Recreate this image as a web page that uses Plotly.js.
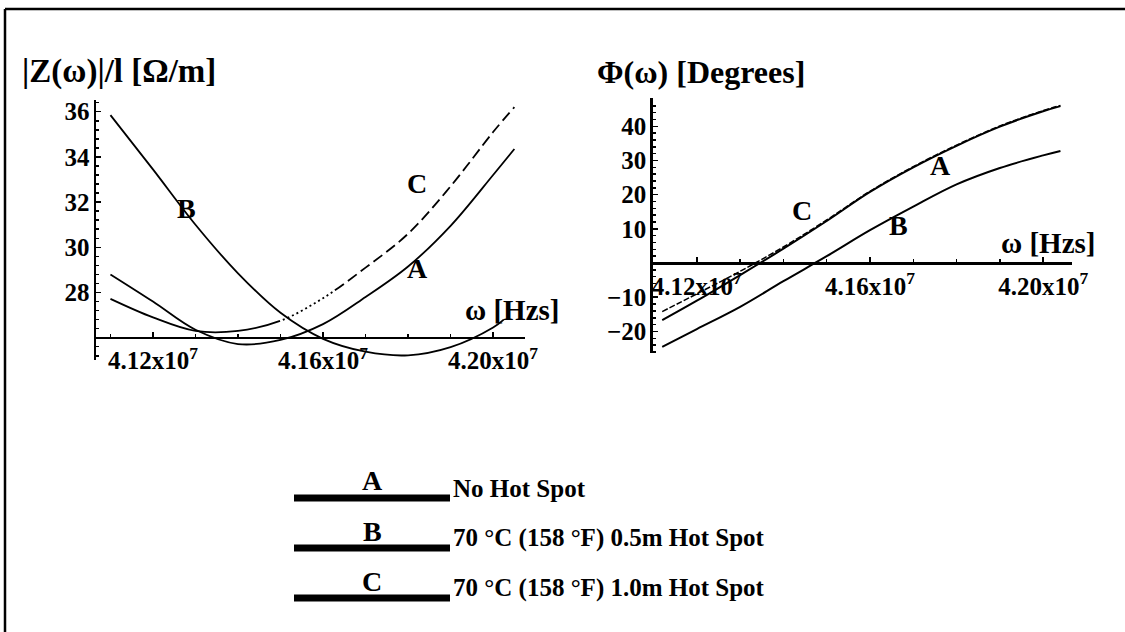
<!DOCTYPE html>
<html>
<head>
<meta charset="utf-8">
<script src="https://cdn.plot.ly/plotly-3.0.1.min.js"></script>
<style>html,body{margin:0;padding:0;background:#fff;overflow:hidden;}#chart{width:1125px;height:632px;}</style>
</head>
<body>
<div id="chart"></div>
<script>
// ---------- data ----------
const freqZ  = [4.110e7, 4.120e7, 4.130e7, 4.140e7, 4.150e7, 4.160e7, 4.170e7, 4.180e7, 4.190e7, 4.200e7, 4.205e7];
const zA     = [28.8, 27.6, 26.35, 25.72, 25.9, 26.6, 27.8, 29.15, 30.95, 33.2, 34.35];
const zC     = [27.72, 26.9, 26.3, 26.3, 26.75, 27.75, 29.1, 30.6, 32.7, 35.1, 36.2];
const freqZB = [4.110e7, 4.120e7, 4.130e7, 4.140e7, 4.150e7, 4.160e7, 4.170e7, 4.180e7, 4.190e7, 4.200e7, 4.2025e7];
const zB     = [35.85, 33.45, 31.0, 28.85, 27.1, 25.95, 25.38, 25.22, 25.58, 26.45, 26.8];

const freqPhi = [4.112e7, 4.120e7, 4.130e7, 4.140e7, 4.150e7, 4.160e7, 4.170e7, 4.180e7, 4.190e7, 4.200e7, 4.204e7];
const phiA    = [-16.7, -11.0, -3.5, 4.2, 12.3, 20.8, 28.0, 34.3, 39.9, 44.4, 45.9];
const phiB    = [-24.5, -19.3, -12.8, -5.3, 2.0, 9.6, 16.5, 23.0, 27.8, 31.5, 32.8];
const phiC    = [-14.2, -9.0, -2.4, 4.7, 12.6, 21.0, 28.2, 34.5, 40.1, 44.6, 46.1];

const xTickVals = [4.12e7, 4.16e7, 4.20e7];
const xTickText = ['4.12x10<sup>7</sup>', '4.16x10<sup>7</sup>', '4.20x10<sup>7</sup>'];
const zTickVals = [28, 30, 32, 34, 36];
const phiTickVals = [-20, -10, 10, 20, 30, 40];

const seriesLabels = ['A', 'B', 'C'];
const legendTexts = ['No Hot Spot', '70 °C (158 °F) 0.5m Hot Spot', '70 °C (158 °F) 1.0m Hot Spot'];

// ---------- layout helpers ----------
const W = 1125, H = 632;
const fx = p => p / W;
const fy = p => 1 - p / H;
const FONT = 'Liberation Serif, Times New Roman, serif';

const yRangeL = [25.013, 36.518];
const yDomL = [fy(360), fy(100)];
const yRangeR = [-26.4, 48.2];
const yDomR = [fy(353.3), fy(98.3)];
const posAt = (v, r, d) => d[0] + (v - r[0]) / (r[1] - r[0]) * (d[1] - d[0]);

// C (left) : solid at first, then dotted, then dashed
const dashC = ['177px', '3px'];
for (let i = 0; i < 12; i++) dashC.push('2px', '3px');
for (let i = 0; i < 30; i++) dashC.push('11px', '5px');

const line = (w, dash) => ({color: '#000', width: w, dash: dash || 'solid', shape: 'spline', smoothing: 1});

const traces = [
  {x: freqZ, y: zA, xaxis: 'x', yaxis: 'y', mode: 'lines', line: line(1.8)},
  {x: freqZB, y: zB, xaxis: 'x', yaxis: 'y', mode: 'lines', line: line(1.8)},
  {x: freqZ, y: zC, xaxis: 'x', yaxis: 'y', mode: 'lines', line: line(1.8, dashC.join(','))},
  {x: freqPhi, y: phiA, xaxis: 'x2', yaxis: 'y2', mode: 'lines', line: line(2)},
  {x: freqPhi, y: phiB, xaxis: 'x2', yaxis: 'y2', mode: 'lines', line: line(2)},
  {x: freqPhi, y: phiC, xaxis: 'x2', yaxis: 'y2', mode: 'lines', line: line(1.5, '6px,2px')}
];

const tickFont = {family: FONT, size: 25, color: '#000', weight: 'bold'};
const axBase = {
  showline: true, linecolor: '#000', linewidth: 2.5, showgrid: false, zeroline: false,
  ticks: 'inside', ticklen: 5, tickwidth: 1.5, tickcolor: '#000', tickfont: tickFont,
  fixedrange: true
};

const layout = {
  width: W, height: H,
  margin: {l: 0, r: 0, t: 0, b: 0},
  paper_bgcolor: '#fff', plot_bgcolor: 'rgba(0,0,0,0)',
  showlegend: false,
  xaxis: Object.assign({}, axBase, {
    domain: [fx(96), fx(525)], range: [4.1066e7, 4.2075e7],
    anchor: 'free', position: posAt(26, yRangeL, yDomL),
    tickmode: 'array', tickvals: xTickVals, ticktext: xTickText, ticklabelstandoff: 0,
    minor: {ticks: 'inside', ticklen: 3, tickcolor: '#000', dtick: 1e5, tick0: 4.12e7}
  }),
  yaxis: Object.assign({}, axBase, {
    domain: yDomL, range: yRangeL, anchor: 'x',
    tickmode: 'array', tickvals: zTickVals, ticklabelstandoff: -1,
    minor: {ticks: 'inside', ticklen: 3, tickcolor: '#000', dtick: 0.4, tick0: 26}
  }),
  xaxis2: Object.assign({}, axBase, {
    domain: [fx(652.7), fx(1071.7)], range: [4.1098e7, 4.2066e7],
    anchor: 'free', position: posAt(0, yRangeR, yDomR),
    tickmode: 'array', tickvals: xTickVals, ticktext: xTickText, ticklabelstandoff: 0,
    minor: {ticks: 'inside', ticklen: 3, tickcolor: '#000', dtick: 1e5, tick0: 4.12e7}
  }),
  yaxis2: Object.assign({}, axBase, {
    domain: yDomR, range: yRangeR, anchor: 'x2',
    tickmode: 'array', tickvals: phiTickVals, ticklabelstandoff: -1,
    minor: {ticks: 'inside', ticklen: 3, tickcolor: '#000', dtick: 2, tick0: 0}
  }),
  shapes: [
    {type: 'line', xref: 'paper', yref: 'paper', x0: fx(5), x1: 1, y0: fy(9), y1: fy(9), line: {color: '#000', width: 2.5}},
    {type: 'line', xref: 'paper', yref: 'paper', x0: fx(5), x1: fx(5), y0: fy(9), y1: 0, line: {color: '#000', width: 2.5}}
  ],
  annotations: []
};

const ann = (text, x, y, size, xanchor) => ({
  text: '<b>' + text + '</b>', xref: 'paper', yref: 'paper', x: fx(x), y: fy(y),
  xanchor: xanchor || 'center', yanchor: 'middle', showarrow: false,
  font: {family: FONT, size: size, color: '#000'}
});

// panel titles
layout.annotations.push(ann('|Z(ω)|/l [Ω/m]', 20, 72, 33, 'left'));
layout.annotations.push(ann('Φ(ω) [Degrees]', 595, 72, 32, 'left'));
// axis labels
layout.annotations.push(ann('ω [Hzs]', 512, 310, 29));
layout.annotations.push(ann('ω [Hzs]', 1048, 243, 29));
// curve labels, left panel
layout.annotations.push(ann(seriesLabels[0], 418, 268, 28));
layout.annotations.push(ann(seriesLabels[1], 186, 208, 28));
layout.annotations.push(ann(seriesLabels[2], 417, 183, 28));
// curve labels, right panel
layout.annotations.push(ann(seriesLabels[0], 940, 165, 28));
layout.annotations.push(ann(seriesLabels[1], 898, 225, 28));
layout.annotations.push(ann(seriesLabels[2], 802, 210, 28));

// legend
const legY = [498, 548, 598];
for (let i = 0; i < 3; i++) {
  layout.shapes.push({type: 'line', xref: 'paper', yref: 'paper', x0: fx(294), x1: fx(450), y0: fy(legY[i]), y1: fy(legY[i]), line: {color: '#000', width: 7}});
  layout.annotations.push(ann(seriesLabels[i], 372, legY[i] - 17, 28));
  layout.annotations.push(ann(legendTexts[i], 451, legY[i] - 10, 25, 'left'));
}

Plotly.newPlot('chart', traces, layout, {staticPlot: true, displayModeBar: false});
</script>
</body>
</html>
